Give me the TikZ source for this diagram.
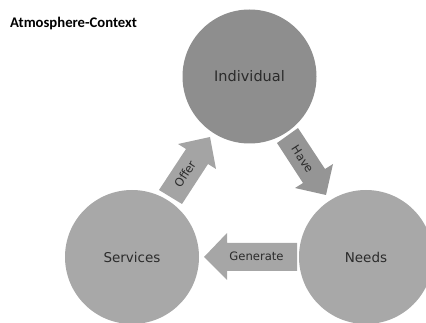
\documentclass[tikz,border=0pt]{standalone}
\usepackage{fontspec}
\setmainfont{DejaVu Sans}
\newfontfamily\titlefont{Carlito}
\definecolor{darkdisc}{HTML}{8E8E8E}
\definecolor{lightdisc}{HTML}{A8A8A8}
\definecolor{havefill}{HTML}{959595}
\definecolor{offerfill}{HTML}{A4A4A4}
\definecolor{genfill}{HTML}{A6A6A6}
\definecolor{inktext}{HTML}{2B2B2B}
\tikzset{
  disc/.style={circle,inner sep=0pt,minimum size=134pt,text=inktext,font=\fontsize{13.5}{16}\selectfont},
  blocklabel/.style={text=inktext,inner sep=0pt,font=\fontsize{11.6}{13}\selectfont},
  titletext/.style={anchor=west,inner sep=0pt,text=black,font=\titlefont\bfseries\fontsize{14.7}{16}\selectfont}
}
\begin{document}
\begin{tikzpicture}[x=1pt,y=-1pt]
\useasboundingbox (0,0) rectangle (426,323);
\clip (0,0) rectangle (426,323);
\node[titletext] (title) at (10,24) {Atmosphere-Context};
\node[disc,fill=darkdisc] (individual) at (249.5,76.5) {\fontsize{14.5}{16}\selectfont Individual};
\node[disc,fill=lightdisc] (services) at (132,257) {Services};
\node[disc,fill=lightdisc] (needs) at (366,257) {Needs};
\fill[havefill] (277,143) -- (298,128) -- (325,169) -- (333,164) -- (326,195) -- (295,188) -- (303,183) -- cycle;
\node[blocklabel,rotate=-57] (have) at (302.5,159) {Have};
\fill[offerfill] (159,190) -- (182,204) -- (208,164) -- (216,169) -- (210,137) -- (178,144) -- (186,149) -- cycle;
\node[blocklabel,rotate=57] (offer) at (185,174) {Offer};
\fill[genfill] (297,243) -- (297,271) -- (227,271) -- (227,280) -- (204,257) -- (227,233) -- (227,243) -- cycle;
\node[blocklabel] (generate) at (256.5,256.5) {Generate};
\end{tikzpicture}
\end{document}
